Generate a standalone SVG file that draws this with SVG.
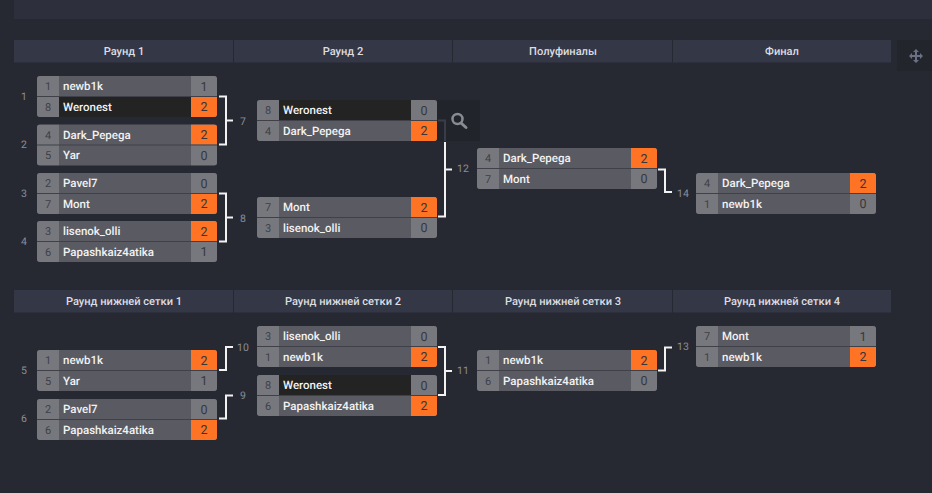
<svg xmlns="http://www.w3.org/2000/svg" width="932" height="493" viewBox="0 0 932 493">
<style>
text{font-family:"Roboto","Liberation Sans",sans-serif;text-rendering:geometricPrecision}
.hd{fill:#343746}
.ht{font-size:11.100px;font-weight:500;fill:#dcdde0;text-anchor:middle}
.bg{fill:#5a5b62}
.sd{fill:#77787e}
.sc{fill:#77787e}
.win{fill:#ff7324}
.lose{fill:#232323}
.sep{stroke:#3f4048;stroke-width:1}
.seed{font-size:11px;fill:#3f4046;text-anchor:middle}
.nm{font-size:11.500px;font-weight:500;fill:#f2f2f2}
.pt{font-size:12.500px;fill:#36373c;text-anchor:middle}
.lb{font-size:10.500px;fill:#8b8d95;text-anchor:middle}
.c{fill:none;stroke:#f2f2f2;stroke-width:2}
.f{fill:none;stroke:#3a3d48;stroke-width:2}
</style>
<rect width="932" height="493" fill="#272932"/>
<rect x="14" y="0" width="918" height="19" fill="#2d303c"/>
<g id="headers">
<rect class="hd" x="14" y="40" width="219" height="22.500"/>
<rect class="hd" x="234" y="40" width="218" height="22.500"/>
<rect class="hd" x="453" y="40" width="219" height="22.500"/>
<rect class="hd" x="673" y="40" width="218" height="22.500"/>
<text class="ht" x="124" y="55">Раунд 1</text>
<text class="ht" x="343" y="55">Раунд 2</text>
<text class="ht" x="563" y="55">Полуфиналы</text>
<text class="ht" x="782" y="55">Финал</text>
<rect class="hd" x="14" y="290" width="219" height="22.500"/>
<rect class="hd" x="234" y="290" width="218" height="22.500"/>
<rect class="hd" x="453" y="290" width="219" height="22.500"/>
<rect class="hd" x="673" y="290" width="218" height="22.500"/>
<text class="ht" x="124" y="305">Раунд нижней сетки 1</text>
<text class="ht" x="343" y="305">Раунд нижней сетки 2</text>
<text class="ht" x="563" y="305">Раунд нижней сетки 3</text>
<text class="ht" x="782" y="305">Раунд нижней сетки 4</text>
</g>
<g id="move-tool">
<rect x="897" y="40" width="35" height="31" fill="#23252d"/>
<path d="M916 49l3 3h-2v3h3v-2l3 3-3 3v-2h-3v3h2l-3 3-3-3h2v-3h-3v2l-3-3 3-3v2h3v-3h-2z" fill="#6a7185"/>
</g>
<g id="search-tool">
<rect x="437" y="100" width="43" height="41" fill="#22242c"/>
<circle cx="457.500" cy="119" r="5" fill="none" stroke="#8a8b90" stroke-width="2.500"/>
<path d="M461 123l5 4.500" stroke="#8a8b90" stroke-width="3" stroke-linecap="round"/>
</g>
<g id="connectors">
<path class="c" d="M219 96.500h7v48h-7M226 120.500h7"/>
<path class="c" d="M219 193.500h7v48h-7M226 217.500h7"/>
<path class="f" d="M438 120.500h7V141"/>
<path class="c" d="M445 142V216.500h-7M445 169.500h7"/>
<path class="c" d="M658 169.500h7v22.500h7"/>
<path class="c" d="M219 370h7v-23h7"/>
<path class="c" d="M219 418.500h7v-23h7"/>
<path class="c" d="M438 347h7v48h-7M445 371h7"/>
<path class="c" d="M658 370.500h7v-23h7"/>
</g>
<g id="connector-labels">
<text class="lb" x="243" y="125">7</text>
<text class="lb" x="243" y="221.500">8</text>
<text class="lb" x="463" y="171.500">12</text>
<text class="lb" x="683" y="197">14</text>
<text class="lb" x="243" y="351">10</text>
<text class="lb" x="243" y="399">9</text>
<text class="lb" x="463" y="374">11</text>
<text class="lb" x="683" y="350">13</text>
<text class="lb" x="24" y="100">1</text>
<text class="lb" x="24" y="148">2</text>
<text class="lb" x="24" y="197">3</text>
<text class="lb" x="24" y="245">4</text>
<text class="lb" x="24" y="374">5</text>
<text class="lb" x="24" y="422">6</text>
</g>
<defs>
<clipPath id="m"><rect width="180" height="41" rx="3"/></clipPath>
<g id="box"><rect class="bg" width="180" height="41" rx="3"/><rect class="sd" width="22" height="41" clip-path="url(#m)"/><rect class="sc" x="154" width="26" height="41" clip-path="url(#m)"/></g>
<rect id="wt" x="154" width="26" height="20" class="win" clip-path="url(#m)"/>
<rect id="wb" x="154" y="21" width="26" height="20" class="win" clip-path="url(#m)"/>
<rect id="lt" x="22" width="132" height="20" class="lose"/>
<rect id="lb" x="22" y="21" width="132" height="20" class="lose"/>
<path id="div" class="sep" d="M0 20.500H180"/>
</defs>
<g id="m1" transform="translate(37 76)"><use href="#box"/><use href="#lb"/><use href="#wb"/><use href="#div"/><text class="seed" x="11" y="14">1</text><text class="nm" x="26" y="14">newb1k</text><text class="pt" x="167" y="14.500">1</text><text class="seed" x="11" y="34.500">8</text><text class="nm" x="26" y="34.500">Weronest</text><text class="pt" x="167" y="35">2</text></g>
<g id="m2" transform="translate(37 124.500)"><use href="#box"/><use href="#wt"/><use href="#div"/><text class="seed" x="11" y="14">4</text><text class="nm" x="26" y="14">Dark_Pepega</text><text class="pt" x="167" y="14.500">2</text><text class="seed" x="11" y="34.500">5</text><text class="nm" x="26" y="34.500">Yar</text><text class="pt" x="167" y="35">0</text></g>
<g id="m3" transform="translate(37 173)"><use href="#box"/><use href="#wb"/><use href="#div"/><text class="seed" x="11" y="14">2</text><text class="nm" x="26" y="14">Pavel7</text><text class="pt" x="167" y="14.500">0</text><text class="seed" x="11" y="34.500">7</text><text class="nm" x="26" y="34.500">Mont</text><text class="pt" x="167" y="35">2</text></g>
<g id="m4" transform="translate(37 221)"><use href="#box"/><use href="#wt"/><use href="#div"/><text class="seed" x="11" y="14">3</text><text class="nm" x="26" y="14">lisenok_olli</text><text class="pt" x="167" y="14.500">2</text><text class="seed" x="11" y="34.500">6</text><text class="nm" x="26" y="34.500">Papashkaiz4atika</text><text class="pt" x="167" y="35">1</text></g>
<g id="m7" transform="translate(257 100)"><use href="#box"/><use href="#lt"/><use href="#wb"/><use href="#div"/><text class="seed" x="11" y="14">8</text><text class="nm" x="26" y="14">Weronest</text><text class="pt" x="167" y="14.500">0</text><text class="seed" x="11" y="34.500">4</text><text class="nm" x="26" y="34.500">Dark_Pepega</text><text class="pt" x="167" y="35">2</text></g>
<g id="m8" transform="translate(257 197)"><use href="#box"/><use href="#wt"/><use href="#div"/><text class="seed" x="11" y="14">7</text><text class="nm" x="26" y="14">Mont</text><text class="pt" x="167" y="14.500">2</text><text class="seed" x="11" y="34.500">3</text><text class="nm" x="26" y="34.500">lisenok_olli</text><text class="pt" x="167" y="35">0</text></g>
<g id="m12" transform="translate(477 148)"><use href="#box"/><use href="#wt"/><use href="#div"/><text class="seed" x="11" y="14">4</text><text class="nm" x="26" y="14">Dark_Pepega</text><text class="pt" x="167" y="14.500">2</text><text class="seed" x="11" y="34.500">7</text><text class="nm" x="26" y="34.500">Mont</text><text class="pt" x="167" y="35">0</text></g>
<g id="m14" transform="translate(696 173)"><use href="#box"/><use href="#wt"/><use href="#div"/><text class="seed" x="11" y="14">4</text><text class="nm" x="26" y="14">Dark_Pepega</text><text class="pt" x="167" y="14.500">2</text><text class="seed" x="11" y="34.500">1</text><text class="nm" x="26" y="34.500">newb1k</text><text class="pt" x="167" y="35">0</text></g>
<g id="m5" transform="translate(37 350)"><use href="#box"/><use href="#wt"/><use href="#div"/><text class="seed" x="11" y="14">1</text><text class="nm" x="26" y="14">newb1k</text><text class="pt" x="167" y="14.500">2</text><text class="seed" x="11" y="34.500">5</text><text class="nm" x="26" y="34.500">Yar</text><text class="pt" x="167" y="35">1</text></g>
<g id="m6" transform="translate(37 399)"><use href="#box"/><use href="#wb"/><use href="#div"/><text class="seed" x="11" y="14">2</text><text class="nm" x="26" y="14">Pavel7</text><text class="pt" x="167" y="14.500">0</text><text class="seed" x="11" y="34.500">6</text><text class="nm" x="26" y="34.500">Papashkaiz4atika</text><text class="pt" x="167" y="35">2</text></g>
<g id="m10" transform="translate(257 326)"><use href="#box"/><use href="#wb"/><use href="#div"/><text class="seed" x="11" y="14">3</text><text class="nm" x="26" y="14">lisenok_olli</text><text class="pt" x="167" y="14.500">0</text><text class="seed" x="11" y="34.500">1</text><text class="nm" x="26" y="34.500">newb1k</text><text class="pt" x="167" y="35">2</text></g>
<g id="m9" transform="translate(257 375)"><use href="#box"/><use href="#lt"/><use href="#wb"/><use href="#div"/><text class="seed" x="11" y="14">8</text><text class="nm" x="26" y="14">Weronest</text><text class="pt" x="167" y="14.500">0</text><text class="seed" x="11" y="34.500">6</text><text class="nm" x="26" y="34.500">Papashkaiz4atika</text><text class="pt" x="167" y="35">2</text></g>
<g id="m11" transform="translate(477 350)"><use href="#box"/><use href="#wt"/><use href="#div"/><text class="seed" x="11" y="14">1</text><text class="nm" x="26" y="14">newb1k</text><text class="pt" x="167" y="14.500">2</text><text class="seed" x="11" y="34.500">6</text><text class="nm" x="26" y="34.500">Papashkaiz4atika</text><text class="pt" x="167" y="35">0</text></g>
<g id="m13" transform="translate(696 326)"><use href="#box"/><use href="#wb"/><use href="#div"/><text class="seed" x="11" y="14">7</text><text class="nm" x="26" y="14">Mont</text><text class="pt" x="167" y="14.500">1</text><text class="seed" x="11" y="34.500">1</text><text class="nm" x="26" y="34.500">newb1k</text><text class="pt" x="167" y="35">2</text></g>
</svg>
